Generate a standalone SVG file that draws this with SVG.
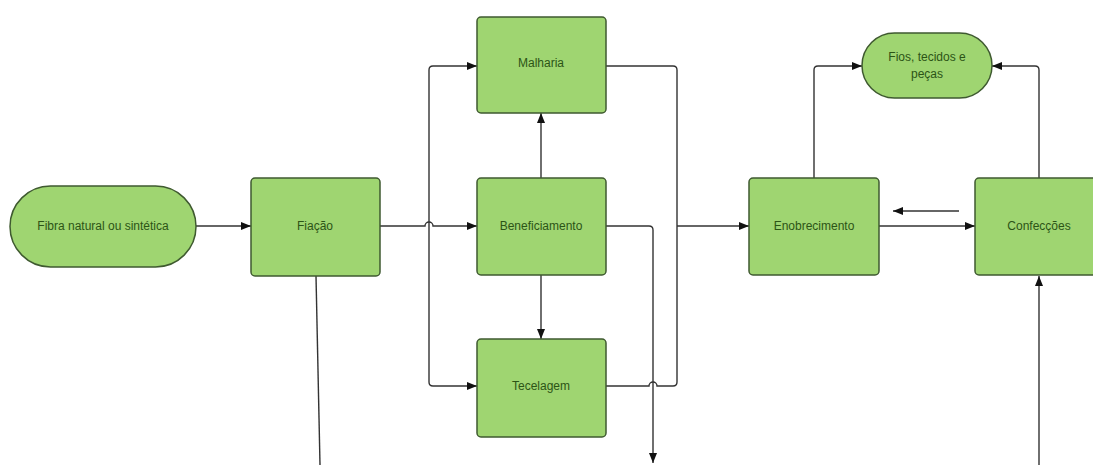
<svg xmlns="http://www.w3.org/2000/svg" width="1093" height="465" viewBox="0 0 1093 465">
<style>
.box{fill:#9fd571;stroke:#3f5a30;stroke-width:1.5}
.lbl{font-family:"Liberation Sans",Arial,sans-serif;font-size:12px;fill:#2c5416;text-anchor:middle;dominant-baseline:central}
.ln{fill:none;stroke:#333;stroke-width:1.4}
</style>
<defs>
<marker id="ah" viewBox="0 0 10 8" refX="10" refY="4" markerWidth="10" markerHeight="8" markerUnits="userSpaceOnUse" orient="auto">
<path d="M0,0 L10,4 L0,8 Z" fill="#111"/>
</marker>
</defs>
<rect width="1093" height="465" fill="#fff"/>
<g id="connectors">
<path class="ln" d="M196,226 H251" marker-end="url(#ah)"/>
<path class="ln" d="M380,226 H425 a4,4 0 0 1 8,0 H477" marker-end="url(#ah)"/>
<path class="ln" d="M433,66 q-4,0 -4,4 V382 q0,4 4,4"/>
<path class="ln" d="M433,66 H477" marker-end="url(#ah)"/>
<path class="ln" d="M433,386 H477" marker-end="url(#ah)"/>
<path class="ln" d="M541,178 V113" marker-end="url(#ah)"/>
<path class="ln" d="M541,275 V339" marker-end="url(#ah)"/>
<path class="ln" d="M606,66 H673 q4,0 4,4 V382 q0,4 -4,4 H657 a4,4 0 0 0 -8,0 H606"/>
<path class="ln" d="M677,226 H749" marker-end="url(#ah)"/>
<path class="ln" d="M606,226 H649 q4,0 4,4 V463" marker-end="url(#ah)"/>
<path class="ln" d="M879,226 H975" marker-end="url(#ah)"/>
<path class="ln" d="M959,211 H893" marker-end="url(#ah)"/>
<path class="ln" d="M814,178 V70 q0,-4 4,-4 H862" marker-end="url(#ah)"/>
<path class="ln" d="M1039,178 V70 q0,-4 -4,-4 H992" marker-end="url(#ah)"/>
<path class="ln" d="M316,276 L320,465"/>
<path class="ln" d="M1039,465 V276" marker-end="url(#ah)"/>
</g>
<g id="fibra">
<rect class="box" x="10" y="186" width="186" height="81" rx="40.5"/>
<text class="lbl" x="103" y="226">Fibra natural ou sintética</text>
</g>
<g id="fiacao">
<rect class="box" x="251" y="178" width="129" height="98" rx="4"/>
<text class="lbl" x="315" y="226">Fiação</text>
</g>
<g id="malharia">
<rect class="box" x="477" y="17" width="129" height="96" rx="4"/>
<text class="lbl" x="541" y="63">Malharia</text>
</g>
<g id="beneficiamento">
<rect class="box" x="477" y="178" width="129" height="97" rx="4"/>
<text class="lbl" x="541" y="226">Beneficiamento</text>
</g>
<g id="tecelagem">
<rect class="box" x="477" y="339" width="129" height="98" rx="4"/>
<text class="lbl" x="541" y="386">Tecelagem</text>
</g>
<g id="enobrecimento">
<rect class="box" x="749" y="178" width="130" height="97" rx="4"/>
<text class="lbl" x="814" y="226">Enobrecimento</text>
</g>
<g id="confeccoes">
<rect class="box" x="975" y="178" width="129" height="97" rx="4"/>
<text class="lbl" x="1039" y="226">Confecções</text>
</g>
<g id="fios">
<rect class="box" x="862" y="33" width="130" height="65" rx="32.5"/>
<text class="lbl" x="927" y="57">Fios, tecidos e</text>
<text class="lbl" x="927" y="74">peças</text>
</g>
</svg>
